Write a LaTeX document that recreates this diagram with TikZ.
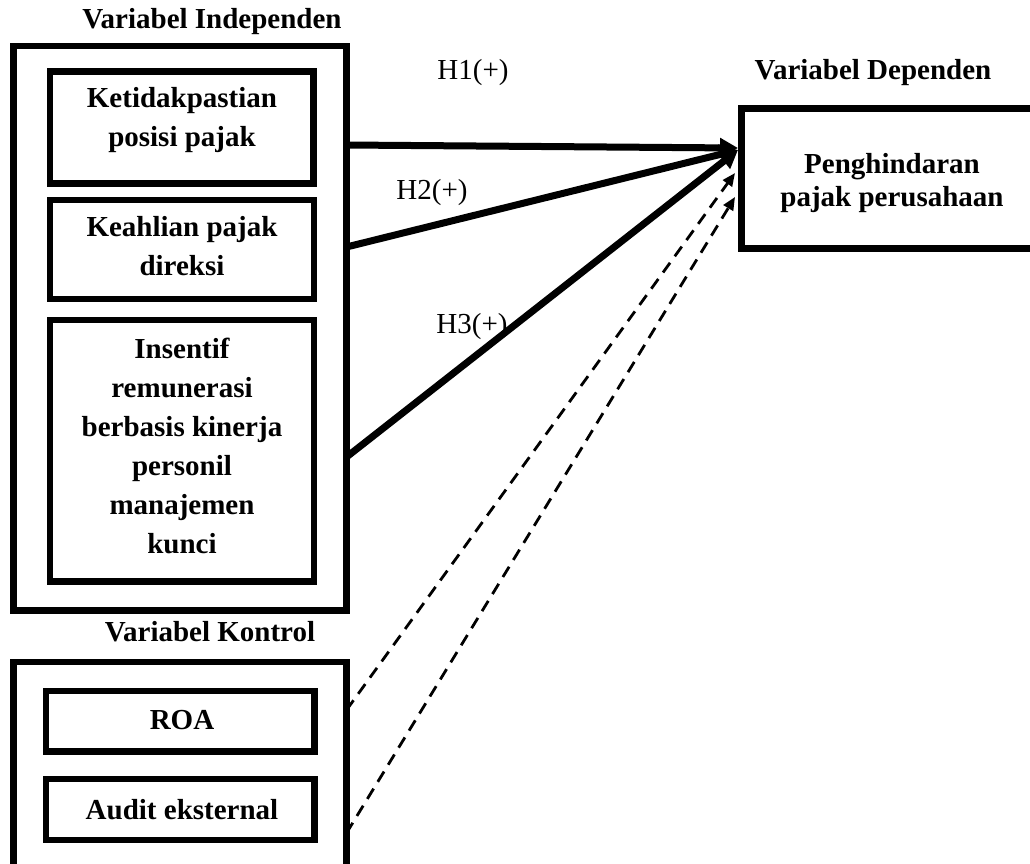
\documentclass[tikz,border=0pt]{standalone}
\usepackage{fontspec}
\setmainfont{Liberation Serif}
\usetikzlibrary{arrows.meta,calc}
\begin{document}
\begin{tikzpicture}[x=1pt,y=-1pt,
  box/.style={draw, line width=6.5pt, inner sep=0pt, outer sep=0pt},
  lbl/.style={font=\fontsize{29}{39}\selectfont\bfseries, align=center, inner sep=0pt},
  deplbl/.style={font=\fontsize{29}{33}\selectfont\bfseries, align=center, inner sep=0pt},
  hyp/.style={font=\fontsize{29}{35}\selectfont, inner sep=0pt},
  solidarr/.style={line width=7pt, -{Triangle[length=18pt,width=19pt]}},
  dasharr/.style={line width=2.8pt, dash pattern=on 12pt off 8pt, -{Triangle[length=13pt,width=11pt]}}]
\useasboundingbox (0,0) rectangle (1030,863);
\clip (0,0) rectangle (1030,863);
\fill[white] (0,0) rectangle (1030,863);
% boxes
\node[box, minimum width=333pt, minimum height=564.5pt] (ind) at (180,328.25) {};
\node[box, minimum width=263.5pt, minimum height=112pt] (k) at (181.75,127.5) {};
\node[box, minimum width=264pt, minimum height=99pt] (ka) at (182,249.5) {};
\node[box, minimum width=264pt, minimum height=261.5pt] (ins) at (182,450.75) {};
\node[box, minimum width=333pt, minimum height=238pt] (ctl) at (180,781) {};
\node[box, minimum width=268.5pt, minimum height=60.5pt] (roa) at (180.25,721.25) {};
\node[box, minimum width=268.5pt, minimum height=61pt] (aud) at (180.25,809.5) {};
\node[box, minimum width=317pt, minimum height=140pt] (dep) at (900,178.5) {};
% texts
\node[lbl] (tind) at (212,22) {Variabel Independen};
\node[lbl] (tk) at (182,120) {Ketidakpastian\\posisi pajak};
\node[lbl] (tka) at (182,246) {Keahlian pajak\\direksi};
\node[lbl] (tins) at (182,445.5) {Insentif\\remunerasi\\berbasis kinerja\\personil\\manajemen\\kunci};
\node[lbl] (tctl) at (210,632) {Variabel Kontrol};
\node[lbl] (troa) at (182,720) {ROA};
\node[lbl] (taud) at (182,810) {Audit eksternal};
\node[lbl] (tdl) at (873,73) {Variabel Dependen};
\node[deplbl] (tdep) at (892,183.5) {Penghindaran\\pajak perusahaan};
\node[hyp] (h1) at (473,73) {H1(+)};
\node[hyp] (h2) at (432,193) {H2(+)};
\node[hyp] (h3) at (472,327) {H3(+)};
% connectors
\draw[solidarr] ($(k.east -| ind.east)+(0,17.5)$) -- ($(dep.west)+(-3.5,-30.5)$);
\draw[solidarr] ($(ka.east -| ind.east)+(0,-2.5)$) -- ($(dep.west)+(-3.5,-28.5)$);
\draw[solidarr] ($(ins.east -| ind.east)+(0,6.25)$) -- ($(dep.west)+(-3.5,-28.5)$);
\draw[dasharr] ($(roa.east -| ctl.east)+(0,-11.25)$) -- ($(dep.west)+(-6.5,-5.5)$);
\draw[dasharr] ($(aud.east -| ctl.east)+(0,23.5)$) -- ($(dep.west)+(-6.5,18.5)$);
\end{tikzpicture}
\end{document}
